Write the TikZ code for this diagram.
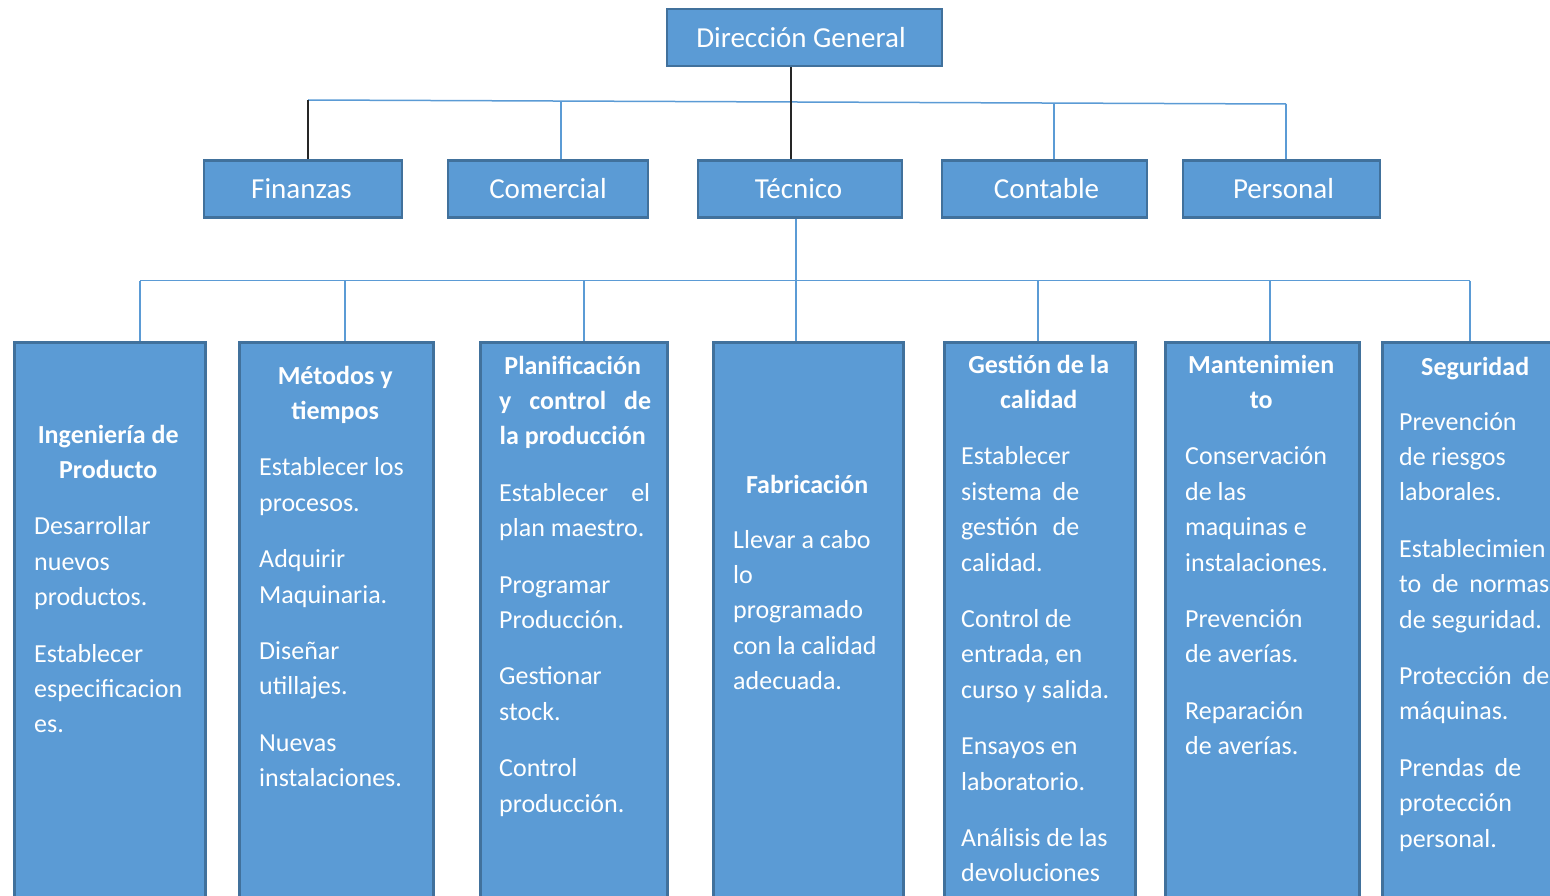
\documentclass[tikz,border=0pt]{standalone}
\usepackage{fontspec}
\setmainfont{Carlito}
\definecolor{boxfill}{HTML}{5B9BD5}
\definecolor{boxline}{HTML}{41719C}
\definecolor{conn}{HTML}{5B9BD5}
\newcommand{\Ln}[1]{\hbox{#1}}
\newcommand{\Ct}[1]{\hbox to \hsize{\hfil\bfseries #1\hfil}}
\newcommand{\Js}[2]{\hbox to #1{#2}}
\newcommand{\Gap}{\vskip 21pt}
\begin{document}
\begin{tikzpicture}[x=1pt,y=-1pt,
  topbox/.style={draw=boxline, line width=2.5pt, fill=boxfill, text=white,
    font=\fontsize{29}{34}\selectfont, inner sep=0pt, minimum height=57pt},
  subbox/.style={draw=boxline, line width=2.5pt, fill=boxfill, anchor=north west,
    inner sep=0pt, minimum height=620pt},
  bodytext/.style={text=white, anchor=base west, inner sep=0pt,
    font=\fontsize{26}{35.4}\selectfont},
  blueline/.style={draw=conn, line width=1.5pt},
  blackline/.style={draw=black!85, line width=1.6pt}]
\useasboundingbox (0,0) rectangle (1550,896);
\clip (0,0) rectangle (1550,896);

% top level
\node[topbox, minimum width=275pt] (dg) at (804.5,37.5) {\kern-7pt Dirección General};
\node[topbox, minimum width=198pt] (fin) at (303,189) {\kern-3pt Finanzas};
\node[topbox, minimum width=200pt] (com) at (548,189) {Comercial};
\node[topbox, minimum width=204pt] (tec) at (800,189) {\kern-3pt Técnico};
\node[topbox, minimum width=205pt] (cont) at (1044.5,189) {\kern4pt Contable};
\node[topbox, minimum width=197pt] (pers) at (1281.5,189) {\kern4pt Personal};

% lower boxes
\node[subbox, minimum width=191pt] (b1) at (13,341) {};
\node[subbox, minimum width=194pt] (b2) at (238,341) {};
\node[subbox, minimum width=187pt] (b3) at (479,341) {};
\node[subbox, minimum width=190pt] (b4) at (712,341) {};
\node[subbox, minimum width=191pt] (b5) at (943,341) {};
\node[subbox, minimum width=194pt] (b6) at (1164,341) {};
\node[subbox, minimum width=196pt] (b7) at (1381,341) {};

% connectors, top level
\coordinate (tl) at (308,100);
\coordinate (tr) at (1286,104);
\coordinate (j2) at (561,101);
\coordinate (j3) at (791,102);
\coordinate (j4) at (1054,103);
\draw[blueline] (tl) -- (tr);
\draw[blackline] (tl) -- (tl |- fin.north);
\draw[blueline] (j2) -- (j2 |- com.north);
\draw[blueline] (j4) -- (j4 |- cont.north);
\draw[blueline] (tr) -- (tr |- pers.north);
\draw[blackline] (dg.south -| j3) -- (j3 |- tec.north);

% connectors, second level
\coordinate (h1) at (140,280.5);
\coordinate (h2) at (345,280.5);
\coordinate (h3) at (584,280.5);
\coordinate (h4) at (796,280.5);
\coordinate (h5) at (1038,280.5);
\coordinate (h6) at (1270,280.5);
\coordinate (h7) at (1470,280.5);
\draw[blueline] (h1) -- (h7);
\draw[blueline] (tec.south -| h4) -- (h4 |- b4.north);
\draw[blueline] (h1) -- (h1 |- b1.north);
\draw[blueline] (h2) -- (h2 |- b2.north);
\draw[blueline] (h3) -- (h3 |- b3.north);
\draw[blueline] (h5) -- (h5 |- b5.north);
\draw[blueline] (h6) -- (h6 |- b6.north);
\draw[blueline] (h7) -- (h7 |- b7.north);

% texts
\node[bodytext] (t1) at (34,443) {\vtop{\hsize=148pt
  \Ct{Ingeniería de}\Ct{Producto}\Gap
  \Ln{Desarrollar}\Ln{nuevos}\Ln{productos.}\Gap
  \Ln{Establecer}\Ln{especificacion}\Ln{es.}}};

\node[bodytext] (t2) at (259,384) {\vtop{\hsize=152pt
  \Ct{Métodos y}\Ct{tiempos}\Gap
  \Ln{Establecer los}\Ln{procesos.}\Gap
  \Ln{Adquirir}\Ln{Maquinaria.}\Gap
  \Ln{Diseñar}\Ln{utillajes.}\Gap
  \Ln{Nuevas}\Ln{instalaciones.}}};

\node[bodytext] (t3) at (499,374) {\vtop{\hsize=147pt
  \Ct{Planificación}\Js{152pt}{\bfseries y control de}\Ct{la producción}\Gap
  \Js{151pt}{Establecer el}\Ln{plan maestro.}\Gap
  \Ln{Programar}\Ln{Producción.}\Gap
  \Ln{Gestionar}\Ln{stock.}\Gap
  \Ln{Control}\Ln{producción.}}};

\node[bodytext] (t4) at (733,493) {\vtop{\hsize=148pt
  \Ct{Fabricación}\vskip 19.6pt
  \Ln{Llevar a cabo}\Ln{lo}\Ln{programado}\Ln{con la calidad}\Ln{adecuada.}}};

\node[bodytext] (t5) at (961,373) {\vtop{\hsize=155pt
  \Ct{Gestión de la}\Ct{calidad}\Gap
  \Ln{Establecer}\Js{118pt}{sistema de}\Js{118pt}{gestión de}\Ln{calidad.}\Gap
  \Ln{Control de}\Ln{entrada, en}\Ln{curso y salida.}\Gap
  \Ln{Ensayos en}\Ln{laboratorio.}\Gap
  \Ln{Análisis de las}\Ln{devoluciones}}};

\node[bodytext] (t6) at (1185,373) {\vtop{\hsize=152pt
  \Ct{Mantenimien}\Ct{to}\Gap
  \Ln{Conservación}\Ln{de las}\Ln{maquinas e}\Ln{instalaciones.}\Gap
  \Ln{Prevención}\Ln{de averías.}\Gap
  \Ln{Reparación}\Ln{de averías.}}};

\node[bodytext] (t7) at (1399,375) {\vtop{\hsize=152pt
  \Ct{Seguridad}\vskip 19.6pt
  \Ln{Prevención}\Ln{de riesgos}\Ln{laborales.}\Gap
  \Ln{Establecimien}\Js{150pt}{to de normas}\Ln{de seguridad.}\Gap
  \Js{150pt}{Protección de}\Ln{máquinas.}\Gap
  \Js{122pt}{Prendas de}\Ln{protección}\Ln{personal.}}};
\end{tikzpicture}
\end{document}
